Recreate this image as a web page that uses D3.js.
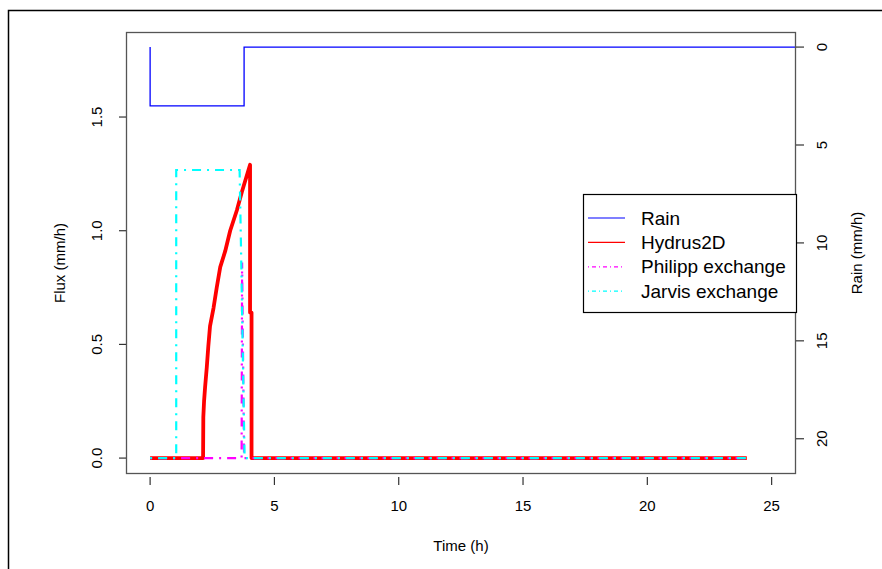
<!DOCTYPE html>
<html><head><meta charset="utf-8">
<script src="https://cdn.jsdelivr.net/npm/d3@7"></script>
<style>body{margin:0;background:#fff}svg{display:block}text{font-family:"Liberation Sans",Arial,sans-serif;fill:#000}</style>
</head><body><svg id="c" width="882" height="569"></svg>
<script>
// ---- data ----
const rainTime = [0, 0, 3.78, 26];
const rainRate = [0, 3, 0, 0];
const hydrusTime = [0, 2.13, 2.14, 2.17, 2.21, 2.28, 2.34, 2.41, 2.55, 2.68, 2.82, 3.02, 3.22, 3.49, 3.69, 4.02, 4.02, 4.08, 4.08, 24];
const hydrusFlux = [0, 0, 0.18, 0.25, 0.31, 0.40, 0.49, 0.58, 0.66, 0.75, 0.84, 0.91, 1.00, 1.09, 1.17, 1.29, 0.64, 0.64, 0, 0];
const philippTime = [0, 3.68, 3.70, 3.78, 24];
const philippFlux = [0, 0, 0.86, 0, 0];
const jarvisTime = [0, 1.05, 1.05, 3.60, 3.66, 3.80, 24];
const jarvisFlux = [0, 0, 1.267, 1.267, 0.90, 0, 0];
const xTicks = [0, 5, 10, 15, 20, 25];
const yTicks = [0.0, 0.5, 1.0, 1.5];
const rainTicks = [0, 5, 10, 15, 20];
const legendLabels = ["Rain", "Hydrus2D", "Philipp exchange", "Jarvis exchange"];

const svg = d3.select("#c");
const L = 126, R = 796, T = 32, B = 474;
const x = d3.scaleLinear().domain([-0.97, 25.98]).range([L, R]);
const y = d3.scaleLinear().domain([-0.07, 1.874]).range([B, T]);
const yr = d3.scaleLinear().domain([-0.77, 21.8]).range([T, B]);

// outer frame
svg.append("rect").attr("x", 8.5).attr("y", 10.5).attr("width", 900).attr("height", 600)
  .attr("fill", "none").attr("stroke", "#000").attr("stroke-width", 1.5);

svg.append("clipPath").attr("id", "clip").append("rect")
  .attr("x", L).attr("y", T).attr("width", R - L).attr("height", B - T);
const g = svg.append("g").attr("clip-path", "url(#clip)");

const zip = (a, b) => a.map((v, i) => [v, b[i]]);
// rain
g.append("path").datum(zip(rainTime, rainRate))
  .attr("d", d3.line().x(d => x(d[0])).y(d => yr(d[1])).curve(d3.curveStepAfter))
  .attr("fill", "none").attr("stroke", "#0000ff").attr("stroke-width", 1.3);
const fl = d3.line().x(d => x(d[0])).y(d => y(d[1]));
g.append("path").datum(zip(hydrusTime, hydrusFlux)).attr("d", fl)
  .attr("fill", "none").attr("stroke", "#ff0000").attr("stroke-width", 3.8).attr("stroke-linejoin", "round");
g.append("path").datum(zip(philippTime, philippFlux)).attr("d", fl)
  .attr("fill", "none").attr("stroke", "#ff00ff").attr("stroke-width", 2.2).attr("stroke-dasharray", "2,6,9,6");
g.append("path").datum(zip(jarvisTime, jarvisFlux)).attr("d", fl)
  .attr("fill", "none").attr("stroke", "#00ffff").attr("stroke-width", 2.2).attr("stroke-dasharray", "2,6,9,6");

// box
svg.append("rect").attr("x", L + 0.5).attr("y", T + 0.5).attr("width", R - L - 1).attr("height", B - T - 1)
  .attr("fill", "none").attr("stroke", "#555").attr("stroke-width", 1.3);

const axCol = "#333";
// x axis ticks
xTicks.forEach(t => {
  svg.append("line").attr("x1", x(t)).attr("x2", x(t)).attr("y1", 477).attr("y2", 485)
    .attr("stroke", axCol).attr("stroke-width", 1.2);
  svg.append("text").attr("x", x(t)).attr("y", 511).attr("text-anchor", "middle")
    .attr("font-size", 15).text(t);
});
svg.append("text").attr("x", (L + R) / 2).attr("y", 551).attr("text-anchor", "middle")
  .attr("font-size", 15).text("Time (h)");

// left axis
yTicks.forEach(t => {
  svg.append("line").attr("x1", 119).attr("x2", L).attr("y1", y(t)).attr("y2", y(t))
    .attr("stroke", axCol).attr("stroke-width", 1.2);
  svg.append("text").attr("transform", `translate(97,${y(t)}) rotate(-90)`)
    .attr("text-anchor", "middle").attr("dy", "0.35em").attr("font-size", 15).text(t.toFixed(1));
});
svg.append("text").attr("transform", `translate(60,${(T + B) / 2 + 10}) rotate(-90)`)
  .attr("text-anchor", "middle").attr("dy", "0.35em").attr("font-size", 15).text("Flux (mm/h)");

// right axis
rainTicks.forEach(t => {
  svg.append("line").attr("x1", R).attr("x2", 804).attr("y1", yr(t)).attr("y2", yr(t))
    .attr("stroke", axCol).attr("stroke-width", 1.2);
  svg.append("text").attr("transform", `translate(822,${yr(t)}) rotate(-90)`)
    .attr("text-anchor", "middle").attr("dy", "0.35em").attr("font-size", 15).text(t);
});
svg.append("text").attr("transform", `translate(857,${(T + B) / 2}) rotate(-90)`)
  .attr("text-anchor", "middle").attr("dy", "0.35em").attr("font-size", 15).text("Rain (mm/h)");

// legend
const lg = svg.append("g");
lg.append("rect").attr("x", 583.5).attr("y", 194.5).attr("width", 213).attr("height", 118)
  .attr("fill", "#fff").attr("stroke", "#000").attr("stroke-width", 1.2);
const lcol = ["#0000ff", "#ff0000", "#ff00ff", "#00ffff"];
const ldash = [null, null, "1,3,4,3", "1,3,4,3"];
legendLabels.forEach((lab, i) => {
  const yy = 218 + i * 24.4;
  lg.append("line").attr("x1", 588).attr("x2", 625).attr("y1", yy).attr("y2", yy)
    .attr("stroke", lcol[i]).attr("stroke-width", 1.2).attr("stroke-dasharray", ldash[i]);
  lg.append("text").attr("x", 641).attr("y", yy + 6.5).attr("font-size", 19).text(lab);
});
</script></body></html>
